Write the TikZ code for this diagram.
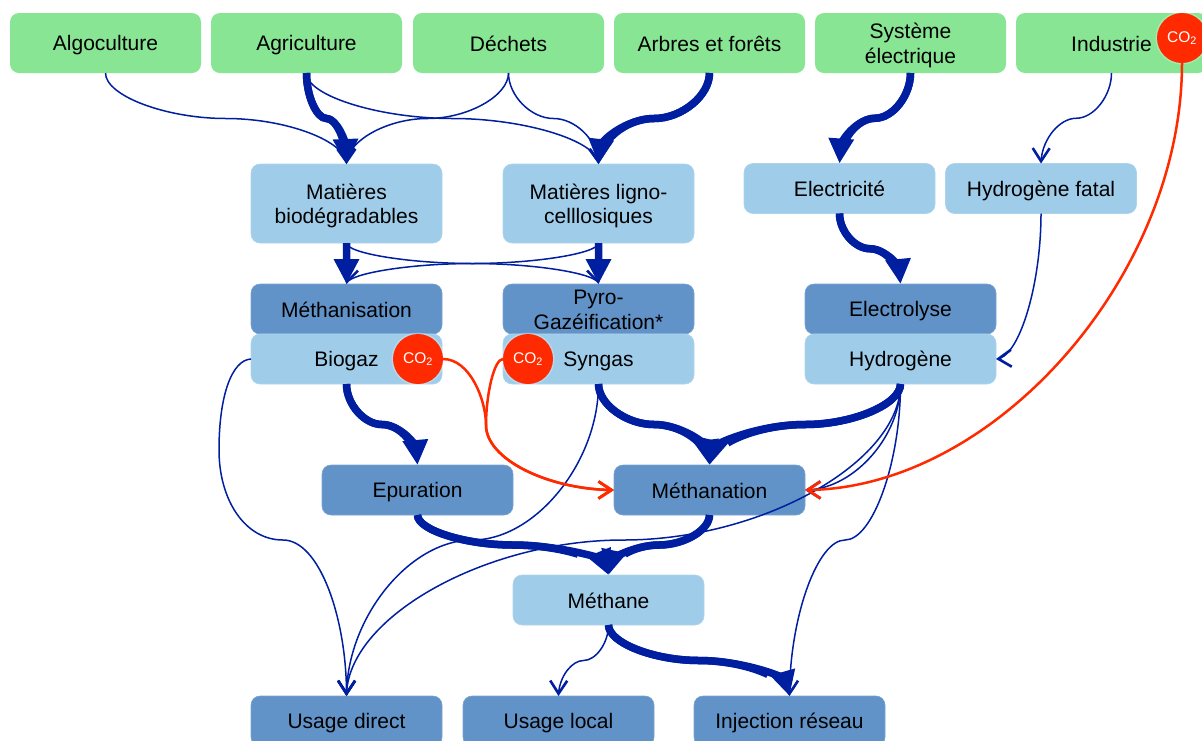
\documentclass[tikz,border=0pt]{standalone}
\usepackage{fontspec}
\setmainfont{Liberation Sans}
\usetikzlibrary{calc,arrows.meta,bending}
\definecolor{cgreen}{HTML}{88E594}
\definecolor{clight}{HTML}{9FCDE9}
\definecolor{cmid}{HTML}{6193C8}
\definecolor{cdark}{HTML}{001EA0}
\definecolor{cred}{HTML}{FF2A00}
\newcommand\ls{\rule[-4pt]{0pt}{24pt}}
\tikzset{
  box/.style={rectangle,rounded corners=9pt,minimum width=191pt,inner sep=0pt,outer sep=0pt,align=center,
    font=\fontsize{21}{24.5}\selectfont,text=black},
  gbox/.style={box,fill=cgreen,minimum height=60pt},
  lbox/.style={box,fill=clight,draw=clight!85!white,line width=.6pt,minimum height=50pt},
  lboxb/.style={lbox,minimum height=79pt},
  mbox/.style={box,fill=cmid,draw=cmid!85!white,line width=.6pt,minimum height=50pt},
  cotwo/.style={circle,fill=cred,minimum size=50pt,inner sep=0pt,outer sep=0pt,text=white,
    font=\fontsize{15.5}{16}\selectfont,preaction={draw=white,line width=3pt,opacity=.25}},
  scurve/.style={to path={let \p1=(\tikztostart),\p2=(\tikztotarget) in
    .. controls (\x1,{\y1+0.25*(\y2-\y1)}) and ({\x1+0.25*(\x2-\x1)},{(\y1+\y2)/2}) ..
    ({(\x1+\x2)/2},{(\y1+\y2)/2})
    .. controls ({\x1+0.75*(\x2-\x1)},{(\y1+\y2)/2}) and (\x2,{\y1+0.75*(\y2-\y1)}) ..
    (\tikztotarget)}},
  quarter/.style={to path={let \p1=(\tikztostart),\p2=(\tikztotarget) in
    .. controls (\x1,{(\y1+\y2)/2}) and ({(\x1+\x2)/2},\y2) .. (\tikztotarget)}},
  fat/.style={draw=cdark,line width=7.5pt,-{Triangle[length=25pt,width=24pt,flex=0.25]},scurve,
    preaction={draw=cdark,line width=7.5pt,-,shorten >=14pt}},
  slim/.style={draw=cdark,line width=1.5pt,-{Straight Barb[length=13pt,width=17pt,line width=2.6pt]},scurve},
  redl/.style={draw=cred,line width=2.5pt,-{Straight Barb[length=13pt,width=17pt,line width=2.8pt]}},
}
\begin{document}
\begin{tikzpicture}[x=1pt,y=-1pt]
\useasboundingbox (0,0) rectangle (1202,740);
\clip (0,0) rectangle (1202,740);
\node[gbox] (algo) at (105.5,43) {\ls Algoculture};
\node[gbox] (agri) at (306.5,43) {\ls Agriculture};
\node[gbox] (dech) at (508.5,43) {\ls Déchets};
\node[gbox] (arbr) at (709.5,43) {\ls Arbres et forêts};
\node[gbox] (syst) at (910.5,43) {\ls Système\\\ls électrique};
\node[gbox] (indu) at (1111.5,43) {\ls Industrie};
\node[lboxb] (bio) at (346.5,203.5) {\ls Matières\\\ls biodégradables};
\node[lboxb] (lig) at (598.5,203.5) {\ls Matières ligno-\\\ls celllosiques};
\node[lbox] (elec) at (839.5,188.5) {\ls Electricité};
\node[lbox] (hfat) at (1041,188.5) {\ls Hydrogène fatal};
\node[mbox] (meth) at (346.5,309) {\ls Méthanisation};
\node[lbox] (biog) at (346.5,359) {\ls Biogaz};
\node[mbox] (pyro) at (598.5,309) {\ls Pyro-\\\ls Gazéification*};
\node[lbox] (syng) at (598.5,359) {\ls Syngas};
\node[mbox] (elys) at (900.5,309) {\ls Electrolyse};
\node[lbox] (hydr) at (900.5,359) {\ls Hydrogène};
\node[mbox] (epur) at (417.5,490) {\ls Epuration};
\node[mbox] (mnat) at (709.5,490) {\ls Méthanation};
\node[lbox] (mane) at (608.5,600) {\ls Méthane};
\node[mbox] (udir) at (346.5,721) {\ls Usage direct};
\node[mbox] (uloc) at (558.5,721) {\ls Usage local};
\node[mbox] (inje) at (789.5,721) {\ls Injection réseau};
% thin connectors
\path[slim] (algo.south) to (bio.north);
\path[slim] (agri.south) to (lig.north);
\path[slim] (dech.south) to (bio.north);
\path[slim] (dech.south) to (lig.north);
\path[slim] (indu.south) to (hfat.north);
\path[slim] (bio.south) to (pyro.north);
\path[slim] (lig.south) to (meth.north);
\path[slim,quarter] (hfat.south) to (hydr.east);
\path[slim] (biog.west) .. controls (232,360) and (219,395) .. (219,450)
   .. controls (219,500) and (245,540) .. (283,540)
   .. controls (320,540) and (347,620) .. (udir.north);
\path[slim] (syng.south) to (udir.north);
\path[slim] (hydr.south) to (udir.north);
\path[slim] (hydr.south) to (inje.north);
\path[slim,quarter] (hydr.south) to (mnat.east);
\path[slim] (mane.south) to (uloc.north);
% thick connectors
\path[fat] (agri.south) to (bio.north);
\path[fat] (arbr.south) to (lig.north);
\path[fat] (syst.south) to (elec.north);
\path[fat] (bio.south) to (meth.north);
\path[fat] (lig.south) to (pyro.north);
\path[fat] (elec.south) to (elys.north);
\path[fat] (biog.south) to (epur.north);
\path[fat] (syng.south) to (mnat.north);
\path[fat] (hydr.south) to (mnat.north);
\path[fat] (epur.south) to (mane.north);
\path[fat] (mnat.south) to (mane.north);
\path[fat] (mane.south) to (inje.north);
% CO2 badges
\node[cotwo] (cob) at (418,359) {CO\textsubscript{2}};
\node[cotwo] (cos) at (528,359) {CO\textsubscript{2}};
\node[cotwo] (coi) at (1182,38) {CO\textsubscript{2}};
% red connectors
\path[redl] (cob.east) .. controls (470,359) and (486,400) .. (486,425)
   .. controls (486,460) and (550,490) .. (mnat.west);
\path[redl] (cos.west) .. controls (494,359) and (486,395) .. (486,425)
   .. controls (486,460) and (550,490) .. (mnat.west);
\path[redl,quarter] (coi.south) to (mnat.east);
\end{tikzpicture}
\end{document}
